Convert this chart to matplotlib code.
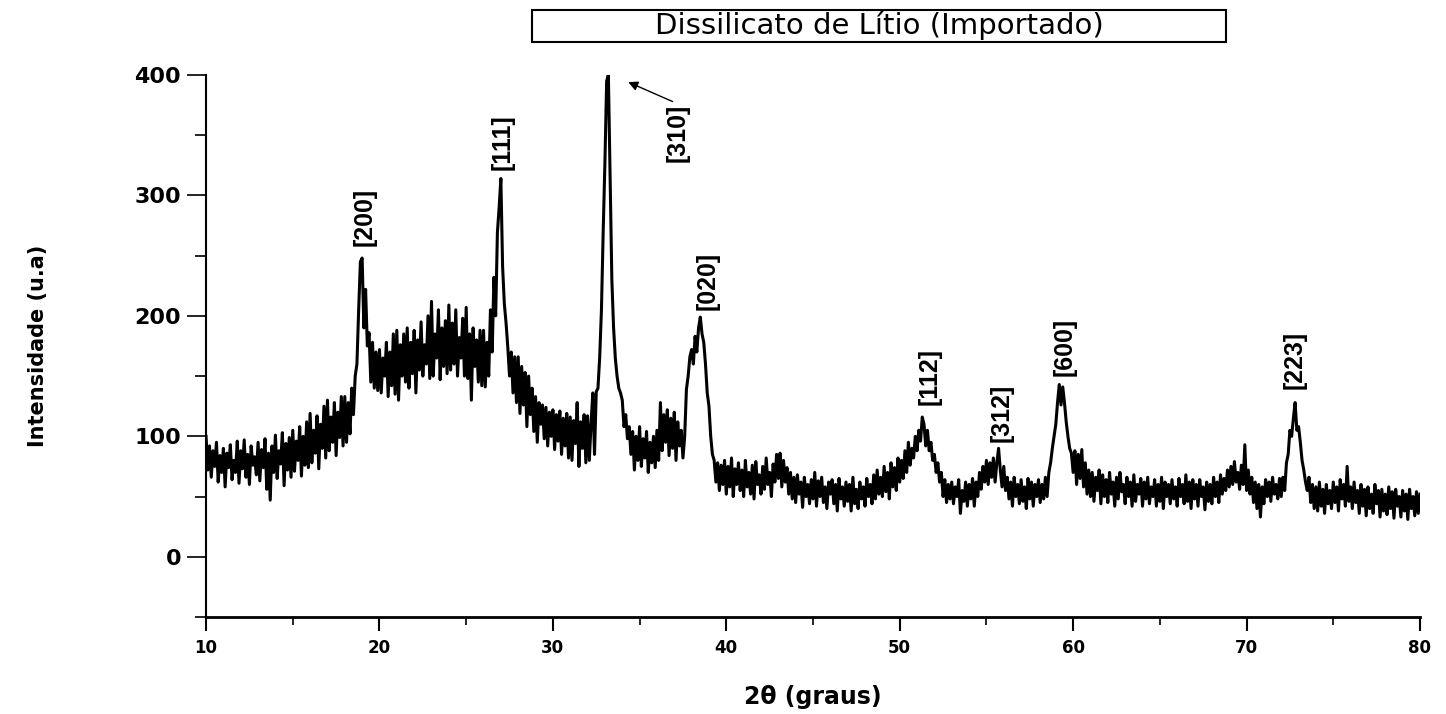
import matplotlib
matplotlib.use('Agg')
import matplotlib.pyplot as plt
from matplotlib.patches import Rectangle
import numpy as np

# 2theta from 10 to 80 in 0.1 degree steps
two_theta = np.round(np.arange(10.0, 80.05, 0.1), 1)

# intensity (u.a), one row per degree
intensity = [
    100, 72, 92, 66, 88, 75, 95, 62, 84, 70,
    90, 58, 86, 74, 93, 64, 80, 70, 96, 61,
    88, 73, 97, 66, 85, 60, 92, 76, 83, 68,
    95, 63, 89, 74, 98, 56, 86, 47, 92, 70,
    101, 65, 88, 77, 103, 59, 94, 72, 99, 66,
    105, 71, 96, 80, 108, 67, 100, 76, 112, 74,
    119, 78, 105, 86, 117, 73, 110, 90, 125, 82,
    130, 88, 116, 95, 128, 84, 120, 99, 133, 92,
    133, 95, 128, 102, 140, 118, 150, 160, 205, 245,
    248, 190, 222, 175, 186, 145, 178, 140, 170, 138,
    172, 136, 165, 150, 178, 133, 170, 142, 185, 135,
    188, 130, 176, 150, 185, 145, 190, 140, 178, 152,
    188, 136, 180, 155, 195, 150, 176, 160, 200, 148,
    212, 150, 185, 165, 205, 147, 190, 158, 196, 152,
    209, 155, 194, 160, 205, 150, 182, 165, 198, 150,
    207, 148, 185, 130, 190, 158, 180, 145, 188, 142,
    188, 141, 178, 150, 205, 170, 232, 200, 269, 290,
    314, 241, 210, 194, 174, 150, 170, 136, 166, 128,
    166, 119, 158, 126, 153, 108, 150, 118, 140, 104,
    133, 95, 128, 110, 126, 98, 124, 92, 120, 100,
    122, 89, 118, 96, 121, 85, 115, 92, 119, 82,
    116, 80, 113, 94, 128, 75, 112, 90, 118, 78,
    117, 80, 110, 136, 85, 137, 140, 166, 205, 270,
    327, 395, 400, 315, 230, 190, 165, 150, 140, 136,
    130, 108, 118, 98, 108, 85, 104, 72, 100, 80,
    108, 75, 98, 82, 104, 70, 95, 78, 100, 74,
    105, 80, 128, 88, 118, 95, 122, 84, 115, 90,
    120, 80, 112, 92, 105, 82, 100, 139, 150, 166,
    172, 160, 183, 170, 190, 199, 185, 178, 160, 136,
    125, 100, 85, 80, 62, 78, 55, 76, 60, 80,
    52, 75, 58, 82, 50, 73, 60, 78, 55, 72,
    50, 80, 58, 70, 52, 76, 48, 79, 60, 68,
    52, 75, 56, 82, 60, 70, 50, 77, 62, 85,
    65, 86, 58, 80, 62, 74, 52, 70, 48, 66,
    45, 68, 52, 62, 41, 66, 50, 60, 44, 64,
    48, 70, 42, 63, 50, 66, 45, 58, 40, 62,
    52, 64, 44, 60, 38, 65, 48, 58, 42, 62,
    46, 60, 38, 66, 44, 56, 40, 62, 48, 58,
    42, 65, 50, 60, 44, 68, 48, 72, 52, 66,
    50, 75, 54, 70, 48, 78, 58, 74, 55, 82,
    62, 80, 65, 88, 70, 95, 76, 90, 82, 100,
    88, 105, 96, 116, 110, 92, 105, 88, 95, 80,
    85, 70, 78, 62, 70, 50, 64, 45, 60, 48,
    62, 44, 58, 50, 64, 36, 55, 46, 62, 42,
    60, 48, 65, 42, 62, 50, 70, 56, 75, 62,
    80, 60, 78, 66, 82, 62, 78, 90, 72, 58,
    75, 55, 66, 48, 62, 42, 66, 50, 60, 44,
    64, 46, 58, 40, 65, 48, 62, 42, 60, 50,
    64, 45, 60, 48, 66, 50, 70, 78, 90, 100,
    110, 128, 143, 126, 141, 128, 112, 100, 90, 86,
    70, 88, 60, 85, 65, 89, 58, 78, 52, 72,
    50, 70, 46, 66, 55, 72, 44, 68, 50, 64,
    45, 70, 52, 62, 42, 66, 48, 70, 54, 60,
    44, 66, 50, 62, 42, 68, 46, 60, 52, 65,
    42, 62, 48, 66, 44, 58, 50, 64, 42, 60,
    46, 66, 40, 62, 50, 60, 44, 64, 48, 58,
    42, 65, 50, 60, 44, 68, 46, 62, 40, 64,
    48, 60, 42, 64, 50, 58, 39, 62, 46, 60,
    44, 66, 50, 62, 45, 68, 52, 65, 55, 72,
    58, 75, 60, 79, 62, 70, 56, 76, 60, 93,
    55, 72, 52, 66, 45, 62, 40, 60, 33, 58,
    44, 64, 50, 62, 46, 66, 52, 60, 48, 65,
    50, 66, 55, 78, 85, 105, 100, 115, 128, 105,
    108, 95, 80, 72, 62, 55, 66, 45, 60, 40,
    58, 38, 62, 42, 56, 36, 60, 44, 55, 40,
    62, 45, 58, 38, 64, 48, 60, 42, 75, 46,
    58, 40, 62, 45, 55, 36, 60, 42, 56, 34,
    58, 40, 52, 36, 60, 44, 55, 33, 56, 38,
    52, 35, 58, 40, 54, 32, 56, 42, 50, 33,
    55, 38, 52, 31, 56, 40, 50, 34, 54, 36,
    52,
]

# peak labels (Miller indices) and where they sit
peak_labels = ['[200]', '[111]', '[310]', '[020]', '[112]', '[312]', '[600]', '[223]']
peak_x = [19.17, 27.1, 37.2, 38.9, 51.7, 55.85, 59.5, 72.8]
peak_y = [258, 321, 328, 205, 126, 95, 150, 139]

fig = plt.figure(figsize=(14.46, 7.14), dpi=100)
ax = fig.add_axes([0.1425, 0.1359, 0.8395, 0.7591])

ax.plot(two_theta, intensity, color='black', linewidth=2.2)

ax.set_xlim(10, 80)
ax.set_ylim(-50, 400)
ax.set_xticks(np.arange(10, 81, 10))
ax.set_xticks(np.arange(15, 80, 10), minor=True)
ax.set_yticks(np.arange(0, 401, 100))
ax.set_yticks(np.arange(-50, 400, 100), minor=True)

for side in ['top', 'right']:
    ax.spines[side].set_visible(False)
ax.spines['left'].set_linewidth(1.5)
ax.spines['bottom'].set_linewidth(2)

ax.tick_params(axis='y', which='major', direction='out', length=14, width=1.2, pad=4)
ax.tick_params(axis='y', which='minor', direction='out', length=8, width=1.2)
ax.tick_params(axis='x', which='major', direction='out', length=10, width=1.5, pad=6)
ax.tick_params(axis='x', which='minor', direction='out', length=6, width=1.2)

for lab in ax.get_yticklabels():
    lab.set_fontfamily('DejaVu Sans')
    lab.set_fontweight('bold')
    lab.set_fontsize(16)
for lab in ax.get_xticklabels():
    lab.set_fontfamily('DejaVu Sans')
    lab.set_fontweight('bold')
    lab.set_fontsize(12)

ax.set_xlabel('2θ (graus)', family='DejaVu Sans', fontweight='bold', fontsize=17, labelpad=20)
ax.set_ylabel('Intensidade (u.a)', family='DejaVu Sans', fontweight='bold', fontsize=15, labelpad=62)

for lab, px, py in zip(peak_labels, peak_x, peak_y):
    ax.text(px, py, lab, rotation=90, ha='center', va='bottom',
            family='Liberation Sans', fontweight='bold', fontsize=18)

# arrow pointing to the main (310) peak
ax.annotate('', xy=(34.2, 395), xytext=(37.05, 377),
            arrowprops=dict(arrowstyle='-|>', color='black', lw=1, mutation_scale=14))

# boxed title
fig.patches.append(Rectangle((0.368, 0.941), 0.48, 0.0448, transform=fig.transFigure,
                             fill=False, edgecolor='black', linewidth=1.5))
fig.text(0.608, 0.9636, 'Dissilicato de Lítio (Importado)', ha='center', va='center',
         family='DejaVu Sans', fontsize=21)

fig.savefig('out.png', dpi=100)
